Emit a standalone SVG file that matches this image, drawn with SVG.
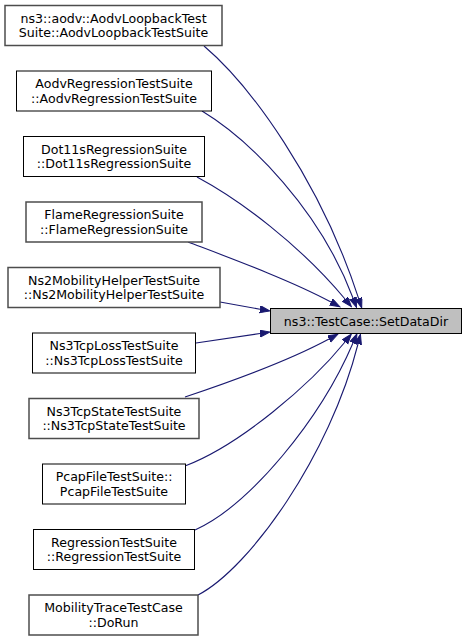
<svg xmlns="http://www.w3.org/2000/svg" width="467" height="640" viewBox="0 0 467 640">
<style>
.n rect{fill:#ffffff;stroke:#000000;stroke-width:1}
.n.g rect{stroke:#4d4d4d;stroke-width:1.5}
.t rect{fill:#bfbfbf;stroke:#000000;stroke-width:1}
text{font-family:"DejaVu Sans",sans-serif;font-size:12.6px;fill:#000000;text-anchor:middle}
.e path{fill:none;stroke:#191970;stroke-width:1.1;marker-end:url(#ah)}
</style>
<defs>
<marker id="ah" markerUnits="userSpaceOnUse" markerWidth="11" markerHeight="8" refX="0" refY="3.5" orient="auto" viewBox="0 0 11 8">
<path d="M0,0 L10,3.5 L0,7 z" fill="#191970" stroke="#191970" stroke-width="1"/>
</marker>
</defs>
<rect width="467" height="640" fill="#ffffff"/>
<g id="connectors" class="e">
<path d="M204,46 C250,85 320,180 358.6,298.3"/>
<path d="M202,111 C250,140 320,210 353,298"/>
<path d="M197,177 C240,200 300,245 345,299"/>
<path d="M188,242 C230,258 290,280 331,302"/>
<path d="M220,302 L260,309.2"/>
<path d="M196,343 L260,333.5"/>
<path d="M185,397 C230,382 290,360 329,339"/>
<path d="M185,466 C240,445 310,385 345,342"/>
<path d="M195,530 C250,505 320,420 353,343"/>
<path d="M198,595 C250,568 330,455 358,344"/>
</g>
<g id="target" class="t">
<rect x="270.5" y="308.5" width="191" height="25"/>
<text x="366" y="325.5">ns3::TestCase::SetDataDir</text>
</g>
<g id="n1" class="n g">
<rect x="5" y="5.5" width="217" height="40"/>
<text x="113.5" y="22.5">ns3::aodv::AodvLoopbackTest</text>
<text x="113.5" y="37">Suite::AodvLoopbackTestSuite</text>
</g>
<g id="n2" class="n">
<rect x="16.5" y="71" width="195" height="40"/>
<text x="114" y="88">AodvRegressionTestSuite</text>
<text x="114" y="102.5">::AodvRegressionTestSuite</text>
</g>
<g id="n3" class="n">
<rect x="23.5" y="136.5" width="181" height="40"/>
<text x="114" y="153.5">Dot11sRegressionSuite</text>
<text x="114" y="168">::Dot11sRegressionSuite</text>
</g>
<g id="n4" class="n g">
<rect x="26" y="202" width="176" height="40"/>
<text x="114" y="219">FlameRegressionSuite</text>
<text x="114" y="233.5">::FlameRegressionSuite</text>
</g>
<g id="n5" class="n g">
<rect x="8" y="267.5" width="212" height="40"/>
<text x="114" y="284.5">Ns2MobilityHelperTestSuite</text>
<text x="114" y="299">::Ns2MobilityHelperTestSuite</text>
</g>
<g id="n6" class="n">
<rect x="32.5" y="333" width="163" height="40"/>
<text x="114" y="350">Ns3TcpLossTestSuite</text>
<text x="114" y="364.5">::Ns3TcpLossTestSuite</text>
</g>
<g id="n7" class="n g">
<rect x="29" y="398.5" width="170" height="40"/>
<text x="114" y="415.5">Ns3TcpStateTestSuite</text>
<text x="114" y="430">::Ns3TcpStateTestSuite</text>
</g>
<g id="n8" class="n">
<rect x="42.5" y="464" width="143" height="40"/>
<text x="114" y="481">PcapFileTestSuite::</text>
<text x="114" y="495.5">PcapFileTestSuite</text>
</g>
<g id="n9" class="n">
<rect x="33.5" y="529.5" width="161" height="40"/>
<text x="114" y="546.5">RegressionTestSuite</text>
<text x="114" y="561">::RegressionTestSuite</text>
</g>
<g id="n10" class="n g">
<rect x="29" y="595" width="169" height="40"/>
<text x="113.5" y="612">MobilityTraceTestCase</text>
<text x="113.5" y="626.5">::DoRun</text>
</g>
</svg>
